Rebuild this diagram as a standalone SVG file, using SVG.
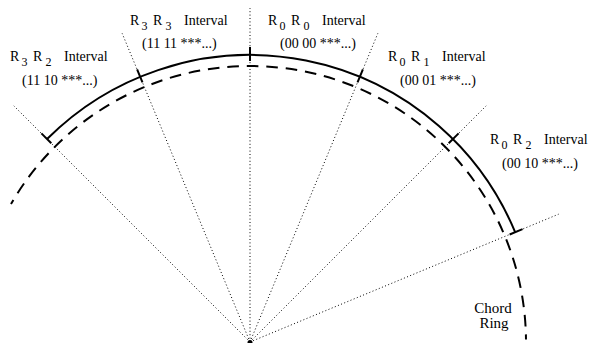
<svg xmlns="http://www.w3.org/2000/svg" width="589" height="343" viewBox="0 0 589 343">
<style>
  text { font-family: "Liberation Serif", "Times New Roman", serif; fill: #000; }
  .m { font-size: 14px; }
  .s { font-size: 12px; }
  .cr { font-size: 15px; text-anchor: middle; }
  .ray { stroke: #000; stroke-width: 1; stroke-dasharray: 1 2.4; fill: none; }
  .ring { stroke: #000; stroke-width: 2; fill: none; }
  .dash { stroke: #000; stroke-width: 2; fill: none; stroke-dasharray: 11.6 7.9; stroke-dashoffset: 6.8; }
  .tick { stroke: #000; stroke-width: 2; }
</style>
<rect width="589" height="343" fill="#fff"/>
<g id="connectors">
  <line class="ray" x1="250" y1="342" x2="13.83" y2="105.83"/>
  <line class="ray" x1="250" y1="342" x2="122.18" y2="33.42"/>
  <line class="ray" x1="250" y1="342" x2="250" y2="8"/>
  <line class="ray" x1="250" y1="342" x2="377.82" y2="33.42"/>
  <line class="ray" x1="250" y1="342" x2="486.17" y2="105.83"/>
  <line class="ray" x1="250" y1="342" x2="558.58" y2="214.18"/>
  <path class="ring" d="M 47.06 139.06 A 287 287 0 0 1 515.15 232.17"/>
  <path class="dash" d="M 10.98 204 A 276 276 0 0 1 525.99 339.59"/>
  <line class="tick" x1="51.30" y1="143.30" x2="41.40" y2="133.40"/>
  <line class="tick" x1="142.47" y1="82.39" x2="137.11" y2="69.46"/>
  <line class="tick" x1="250" y1="61" x2="250" y2="47"/>
  <line class="tick" x1="357.53" y1="82.39" x2="362.89" y2="69.46"/>
  <line class="tick" x1="448.70" y1="143.30" x2="458.60" y2="133.40"/>
  <line class="tick" x1="509.61" y1="234.47" x2="522.54" y2="229.11"/>
  <circle cx="250" cy="342.5" r="2.5" fill="#000"/>
</g>
<g id="r3r2">
  <text class="m" x="10" y="61">R</text><text class="s" x="21.5" y="66">3</text>
  <text class="m" x="33" y="61">R</text><text class="s" x="45.5" y="66">2</text>
  <text class="m" x="64" y="61">Interval</text>
  <text class="m" x="22" y="85">(11 10 ***...)</text>
</g>
<g id="r3r3">
  <text class="m" x="130" y="25">R</text><text class="s" x="141.5" y="30">3</text>
  <text class="m" x="153" y="25">R</text><text class="s" x="165.5" y="30">3</text>
  <text class="m" x="184" y="25">Interval</text>
  <text class="m" x="142" y="48">(11 11 ***...)</text>
</g>
<g id="r0r0">
  <text class="m" x="268" y="25">R</text><text class="s" x="279.5" y="30">0</text>
  <text class="m" x="291" y="25">R</text><text class="s" x="303.5" y="30">0</text>
  <text class="m" x="322" y="25">Interval</text>
  <text class="m" x="280" y="48">(00 00 ***...)</text>
</g>
<g id="r0r1">
  <text class="m" x="388" y="61">R</text><text class="s" x="399.5" y="66">0</text>
  <text class="m" x="411" y="61">R</text><text class="s" x="423.5" y="66">1</text>
  <text class="m" x="442" y="61">Interval</text>
  <text class="m" x="400" y="85">(00 01 ***...)</text>
</g>
<g id="r0r2">
  <text class="m" x="490" y="144">R</text><text class="s" x="501.5" y="149">0</text>
  <text class="m" x="513" y="144">R</text><text class="s" x="525.5" y="149">2</text>
  <text class="m" x="544" y="144">Interval</text>
  <text class="m" x="502" y="168">(00 10 ***...)</text>
</g>
<g id="chord-ring">
  <text class="cr" x="493" y="313">Chord</text>
  <text class="cr" x="494" y="328">Ring</text>
</g>
</svg>
